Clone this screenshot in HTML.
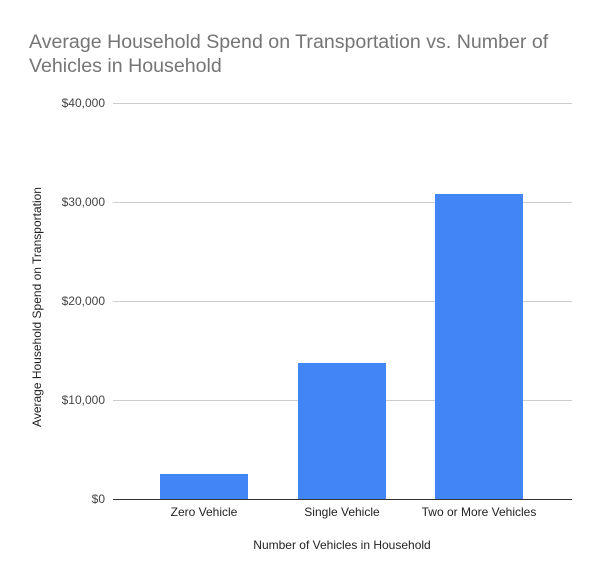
<!DOCTYPE html>
<html><head><style>body{margin:0;background:#fff}</style></head><body>
<svg width="600" height="580" xmlns="http://www.w3.org/2000/svg" font-family="Liberation Sans, Arial, sans-serif">
<rect width="600" height="580" fill="#fff"/>
<text x="29" y="48" font-size="19.6" fill="#757575">Average Household Spend on Transportation vs. Number of</text>
<text x="29" y="72" font-size="19.6" fill="#757575">Vehicles in Household</text>
<g stroke="#cccccc" stroke-width="1">
<line x1="113" y1="103.5" x2="572" y2="103.5"/>
<line x1="113" y1="202.5" x2="572" y2="202.5"/>
<line x1="113" y1="301.5" x2="572" y2="301.5"/>
<line x1="113" y1="400.5" x2="572" y2="400.5"/>
</g>
<g font-size="12" fill="#444" text-anchor="end">
<text x="105" y="107">$40,000</text>
<text x="105" y="206">$30,000</text>
<text x="105" y="305">$20,000</text>
<text x="105" y="404">$10,000</text>
<text x="105" y="503">$0</text>
</g>
<g fill="#4285f4">
<rect x="160" y="474" width="88" height="25"/>
<rect x="298" y="363" width="88" height="136"/>
<rect x="435" y="194" width="88" height="305"/>
</g>
<line x1="113" y1="499.5" x2="572" y2="499.5" stroke="#333" stroke-width="1"/>
<g font-size="12" fill="#222" text-anchor="middle">
<text x="204" y="516">Zero Vehicle</text>
<text x="342" y="516">Single Vehicle</text>
<text x="479" y="516">Two or More Vehicles</text>
<text x="342" y="549">Number of Vehicles in Household</text>
<text transform="translate(41,307) rotate(-90)">Average Household Spend on Transportation</text>
</g>
</svg>
</body></html>
